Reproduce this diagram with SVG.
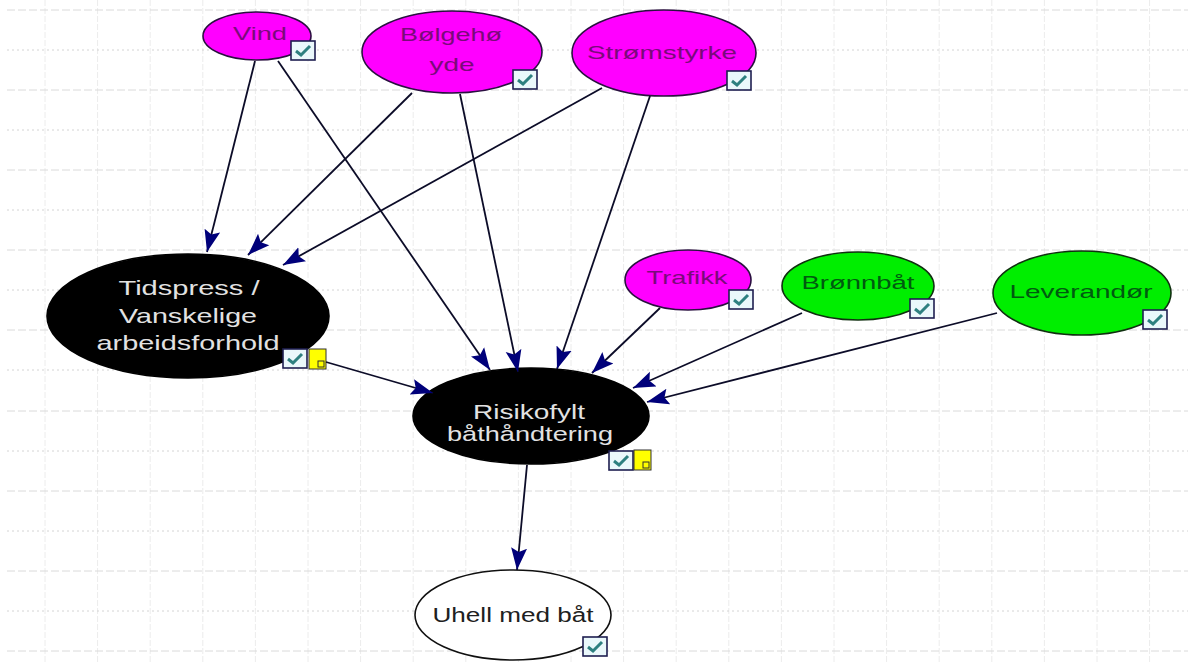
<svg xmlns="http://www.w3.org/2000/svg" xmlns:xlink="http://www.w3.org/1999/xlink" width="1188" height="662" viewBox="0 0 1188 662">
<style>
.gv{stroke:#ececec;stroke-width:1;stroke-dasharray:6 2}
.gh{stroke:#dadada;stroke-width:1;stroke-dasharray:8 3}
.gd{stroke:#d4d4d4;stroke-width:1;stroke-dasharray:2 3}
.mag{fill:#ff00ff;stroke:#2a1040;stroke-width:1.6}
.grn{fill:#00ee00;stroke:#103010;stroke-width:1.6}
.blk{fill:#000000;stroke:#000000;stroke-width:1.6}
.wht{fill:#ffffff;stroke:#101010;stroke-width:1.6}
text{font-family:"Liberation Sans",Arial,sans-serif;text-anchor:middle}
.tm{fill:#7a0a7a;font-size:19px}
.tg{fill:#005a10;font-size:19px}
.tb{fill:#e2e2e2;font-size:21px}
.tw{fill:#202020;font-size:20px}
.edge{stroke:#0c0c28;stroke-width:1.8;fill:none;marker-end:url(#arr)}
</style>
<defs>
<marker id="arr" markerUnits="userSpaceOnUse" markerWidth="22" markerHeight="18" viewBox="0 0 22 18" refX="22" refY="9" orient="auto">
<path d="M0,1 L22,9 L0,17 L4,9 z" fill="#00007a"/>
</marker>
<g id="chk">
<rect x="0" y="0" width="24" height="19" fill="#eaf8fb" stroke="#1e1e50" stroke-width="1.6"/>
<path d="M5,10 L10,14 L19,5" fill="none" stroke="#2e8080" stroke-width="3"/>
</g>
<g id="note">
<rect x="0" y="0" width="17" height="20" fill="#ffff00" stroke="#303030" stroke-width="1"/>
<rect x="9" y="12" width="6" height="6" fill="none" stroke="#303030" stroke-width="1"/>
</g>
</defs>
<rect width="1188" height="662" fill="#ffffff"/>
<g id="grid">
<line class="gv" x1="45" y1="0" x2="45" y2="662"/>
<line class="gv" x1="97.6" y1="0" x2="97.6" y2="662"/>
<line class="gv" x1="150.2" y1="0" x2="150.2" y2="662"/>
<line class="gv" x1="202.8" y1="0" x2="202.8" y2="662"/>
<line class="gv" x1="255.4" y1="0" x2="255.4" y2="662"/>
<line class="gv" x1="308" y1="0" x2="308" y2="662"/>
<line class="gv" x1="360.6" y1="0" x2="360.6" y2="662"/>
<line class="gv" x1="413.2" y1="0" x2="413.2" y2="662"/>
<line class="gv" x1="465.8" y1="0" x2="465.8" y2="662"/>
<line class="gv" x1="518.4" y1="0" x2="518.4" y2="662"/>
<line class="gv" x1="571" y1="0" x2="571" y2="662"/>
<line class="gv" x1="623.6" y1="0" x2="623.6" y2="662"/>
<line class="gv" x1="676.2" y1="0" x2="676.2" y2="662"/>
<line class="gv" x1="728.8" y1="0" x2="728.8" y2="662"/>
<line class="gv" x1="781.4" y1="0" x2="781.4" y2="662"/>
<line class="gv" x1="834" y1="0" x2="834" y2="662"/>
<line class="gv" x1="886.6" y1="0" x2="886.6" y2="662"/>
<line class="gv" x1="939.2" y1="0" x2="939.2" y2="662"/>
<line class="gv" x1="991.8" y1="0" x2="991.8" y2="662"/>
<line class="gv" x1="1044.4" y1="0" x2="1044.4" y2="662"/>
<line class="gv" x1="1097" y1="0" x2="1097" y2="662"/>
<line class="gv" x1="1149.6" y1="0" x2="1149.6" y2="662"/>
<line class="gh" x1="7" y1="10" x2="1188" y2="10"/>
<line class="gd" x1="7" y1="50" x2="1188" y2="50"/>
<line class="gh" x1="7" y1="90" x2="1188" y2="90"/>
<line class="gd" x1="7" y1="130" x2="1188" y2="130"/>
<line class="gh" x1="7" y1="170" x2="1188" y2="170"/>
<line class="gd" x1="7" y1="210" x2="1188" y2="210"/>
<line class="gh" x1="7" y1="250" x2="1188" y2="250"/>
<line class="gd" x1="7" y1="290" x2="1188" y2="290"/>
<line class="gh" x1="7" y1="330" x2="1188" y2="330"/>
<line class="gd" x1="7" y1="370" x2="1188" y2="370"/>
<line class="gh" x1="7" y1="411" x2="1188" y2="411"/>
<line class="gd" x1="7" y1="451" x2="1188" y2="451"/>
<line class="gh" x1="7" y1="491" x2="1188" y2="491"/>
<line class="gd" x1="7" y1="531" x2="1188" y2="531"/>
<line class="gh" x1="7" y1="571" x2="1188" y2="571"/>
<line class="gd" x1="7" y1="611" x2="1188" y2="611"/>
<line class="gh" x1="7" y1="651" x2="1188" y2="651"/>
</g>
<g id="node-vind">
<ellipse class="mag" cx="257" cy="36" rx="54" ry="24"/>
<text class="tm" x="260" y="40" textLength="54" lengthAdjust="spacingAndGlyphs">Vind</text>
<use href="#chk" x="291" y="41"/>
</g>
<g id="node-bolgehoyde">
<ellipse class="mag" cx="452" cy="52" rx="90" ry="41"/>
<text class="tm" x="451" y="41" textLength="102" lengthAdjust="spacingAndGlyphs">Bølgehø</text>
<text class="tm" x="452" y="71" textLength="45" lengthAdjust="spacingAndGlyphs">yde</text>
<use href="#chk" x="513" y="70"/>
</g>
<g id="node-stromstyrke">
<ellipse class="mag" cx="664" cy="53" rx="92" ry="43"/>
<text class="tm" x="662" y="59" textLength="150" lengthAdjust="spacingAndGlyphs">Strømstyrke</text>
<use href="#chk" x="727" y="71"/>
</g>
<g id="node-trafikk">
<ellipse class="mag" cx="688" cy="280" rx="63" ry="30"/>
<text class="tm" x="687" y="284" textLength="81" lengthAdjust="spacingAndGlyphs">Trafikk</text>
<use href="#chk" x="729" y="290"/>
</g>
<g id="node-bronnbat">
<ellipse class="grn" cx="858" cy="286" rx="76" ry="34"/>
<text class="tg" x="858" y="289" textLength="113" lengthAdjust="spacingAndGlyphs">Brønnbåt</text>
<use href="#chk" x="910" y="299"/>
</g>
<g id="node-leverandor">
<ellipse class="grn" cx="1082" cy="293" rx="89" ry="42"/>
<text class="tg" x="1081" y="298" textLength="143" lengthAdjust="spacingAndGlyphs">Leverandør</text>
<use href="#chk" x="1143" y="310"/>
</g>
<g id="node-tidspress">
<ellipse class="blk" cx="188" cy="316" rx="141" ry="62"/>
<text class="tb" x="189" y="295" textLength="141" lengthAdjust="spacingAndGlyphs">Tidspress /</text>
<text class="tb" x="188" y="323" textLength="138" lengthAdjust="spacingAndGlyphs">Vanskelige</text>
<text class="tb" x="188" y="350" textLength="183" lengthAdjust="spacingAndGlyphs">arbeidsforhold</text>
<use href="#chk" x="283" y="349"/>
<use href="#note" x="309" y="349"/>
</g>
<g id="node-risikofylt">
<ellipse class="blk" cx="531" cy="416" rx="118" ry="48"/>
<text class="tb" x="529" y="419" textLength="112" lengthAdjust="spacingAndGlyphs">Risikofylt</text>
<text class="tb" x="530" y="441" textLength="166" lengthAdjust="spacingAndGlyphs">båthåndtering</text>
<use href="#chk" x="609" y="451"/>
<use href="#note" x="634" y="450"/>
</g>
<g id="node-uhell">
<ellipse class="wht" cx="513" cy="615" rx="98" ry="45"/>
<text class="tw" x="513" y="622" textLength="161" lengthAdjust="spacingAndGlyphs">Uhell med båt</text>
<use href="#chk" x="583" y="637"/>
</g>
<g id="connectors">
<line class="edge" x1="255" y1="61" x2="207" y2="252"/>
<line class="edge" x1="278" y1="61" x2="490" y2="370"/>
<line class="edge" x1="412" y1="93" x2="248" y2="255"/>
<line class="edge" x1="460" y1="94" x2="518" y2="372"/>
<line class="edge" x1="602" y1="88" x2="283" y2="265"/>
<line class="edge" x1="650" y1="96" x2="557" y2="369"/>
<line class="edge" x1="660" y1="308" x2="592" y2="373"/>
<line class="edge" x1="802" y1="313" x2="633" y2="388"/>
<line class="edge" x1="997" y1="313" x2="647" y2="402"/>
<line class="edge" x1="326" y1="362" x2="433" y2="393"/>
<line class="edge" x1="527" y1="465" x2="517" y2="570"/>
</g>
</svg>
